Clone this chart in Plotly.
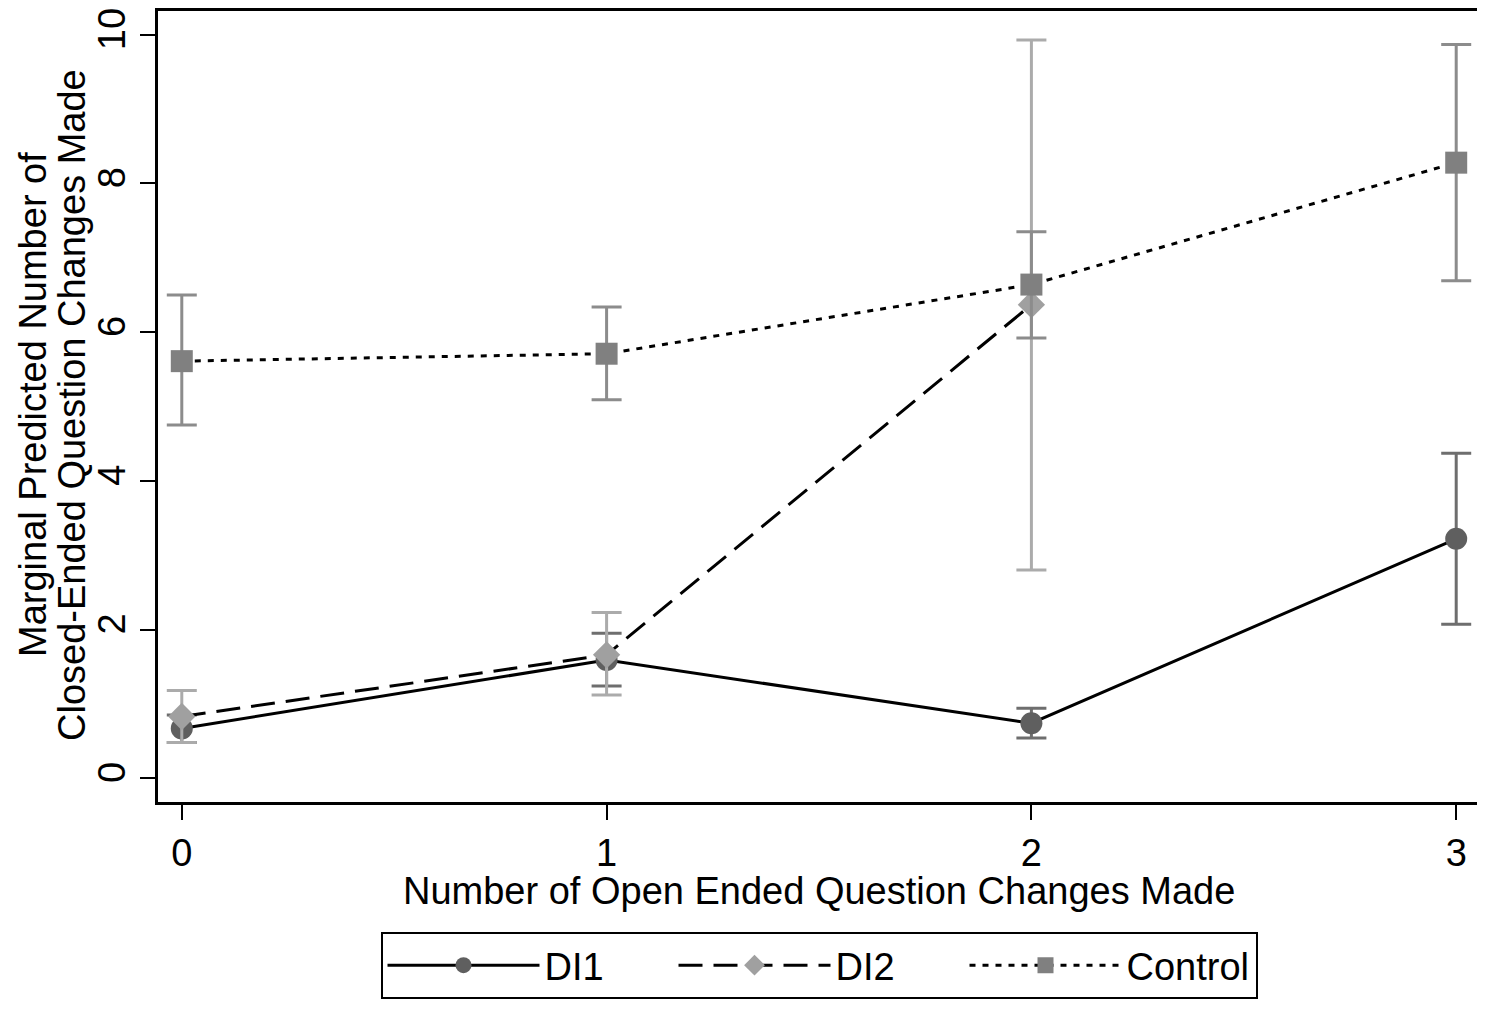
import plotly.graph_objects as go

x_vals = [0, 1, 2, 3]

di1_y = [0.67, 1.59, 0.74, 3.22]
di1_hi = [0.85, 1.95, 0.94, 4.37]
di1_lo = [0.48, 1.24, 0.54, 2.07]

di2_y = [0.83, 1.66, 6.37, None]
di2_hi = [1.18, 2.23, 9.93, None]
di2_lo = [0.48, 1.12, 2.80, None]

ctl_y = [5.61, 5.71, 6.64, 8.28]
ctl_hi = [6.50, 6.34, 7.35, 9.87]
ctl_lo = [4.75, 5.09, 5.92, 6.69]

y_ticks = [0, 2, 4, 6, 8, 10]
x_ticks = [0, 1, 2, 3]

x_title = "Number of Open Ended Question Changes Made"
y_title_lines = ["Marginal Predicted Number of", "Closed-Ended Question Changes Made"]

FONT = "Liberation Sans, Arial, sans-serif"
FS = 38


def err(y, hi, lo):
    plus = [h - v for v, h in zip(y, hi)]
    minus = [v - l for v, l in zip(y, lo)]
    return plus, minus


fig = go.Figure()

series = [
    ("DI1", di1_y, di1_hi, di1_lo, "solid", "circle", 22, "#5f5f5f", "#6e6e6e"),
    ("DI2", di2_y, di2_hi, di2_lo, "24px,11px", "diamond", 21, "#a0a0a0", "#ababab"),
    ("Control", ctl_y, ctl_hi, ctl_lo, "6px,7px", "square", 22, "#808080", "#8c8c8c"),
]

for name, y, hi, lo, dash, sym, size, mcol, ecol in series:
    xs = [x for x, v in zip(x_vals, y) if v is not None]
    ys = [v for v in y if v is not None]
    his = [h for h, v in zip(hi, y) if v is not None]
    los = [l for l, v in zip(lo, y) if v is not None]
    plus, minus = err(ys, his, los)
    fig.add_trace(go.Scatter(
        x=xs, y=ys, name=name, mode="lines+markers",
        line=dict(color="black", width=3, dash=dash),
        marker=dict(symbol=sym, size=size, color=mcol, line=dict(width=0)),
        error_y=dict(type="data", symmetric=False, array=plus, arrayminus=minus,
                     color=ecol, thickness=3, width=15),
    ))

# page has ~8px body margin; figure coords = page coords - 8
L, T, W, H = 150, 3, 1477, 1002
PLOT_B = 794  # bottom axis in figure coords
R = W - 1472
B = H - PLOT_B
plot_h = PLOT_B - T

fig.update_layout(
    width=W, height=H,
    paper_bgcolor="white", plot_bgcolor="white",
    margin=dict(l=L, r=R, t=T, b=B, autoexpand=False),
    font=dict(family=FONT, size=FS, color="black"),
    xaxis=dict(
        range=[-0.056, 3.056], tickvals=x_ticks, ticktext=[str(t) for t in x_ticks],
        showgrid=False, zeroline=False, showline=True, linecolor="black", linewidth=3,
        mirror=True, ticks="outside", ticklen=15, tickwidth=2, tickcolor="black",
        tickfont=dict(size=FS), automargin=False, ticklabeloverflow="allow",
    ),
    yaxis=dict(
        range=[-0.32, 10.32], tickvals=y_ticks, ticktext=[str(t) for t in y_ticks],
        showgrid=False, zeroline=False, showline=True, linecolor="black", linewidth=3,
        mirror=True, ticks="outside", ticklen=15, tickwidth=2, tickcolor="black",
        tickangle=-90, tickfont=dict(size=FS), automargin=False, ticklabeloverflow="allow",
    ),
    legend=dict(
        orientation="h", x=0.5, xanchor="center", y=-(924 - PLOT_B) / plot_h, yanchor="top",
        bordercolor="black", borderwidth=2, font=dict(size=FS),
        itemwidth=152, entrywidth=124, entrywidthmode="pixels", tracegroupgap=0,
    ),
    showlegend=True,
)

# axis titles as annotations for precise placement
fig.add_annotation(
    text=x_title, xref="paper", yref="paper", x=0.5, y=-(883 - PLOT_B) / plot_h,
    xanchor="center", yanchor="middle", showarrow=False, font=dict(size=FS),
)
for line, px in zip(y_title_lines, [25, 64]):
    fig.add_annotation(
        text=line, xref="paper", yref="paper", x=0, xshift=px - L,
        y=(PLOT_B - 397) / plot_h, xanchor="center", yanchor="middle",
        textangle=-90, showarrow=False, font=dict(size=FS),
    )

fig.write_html("out.html")
